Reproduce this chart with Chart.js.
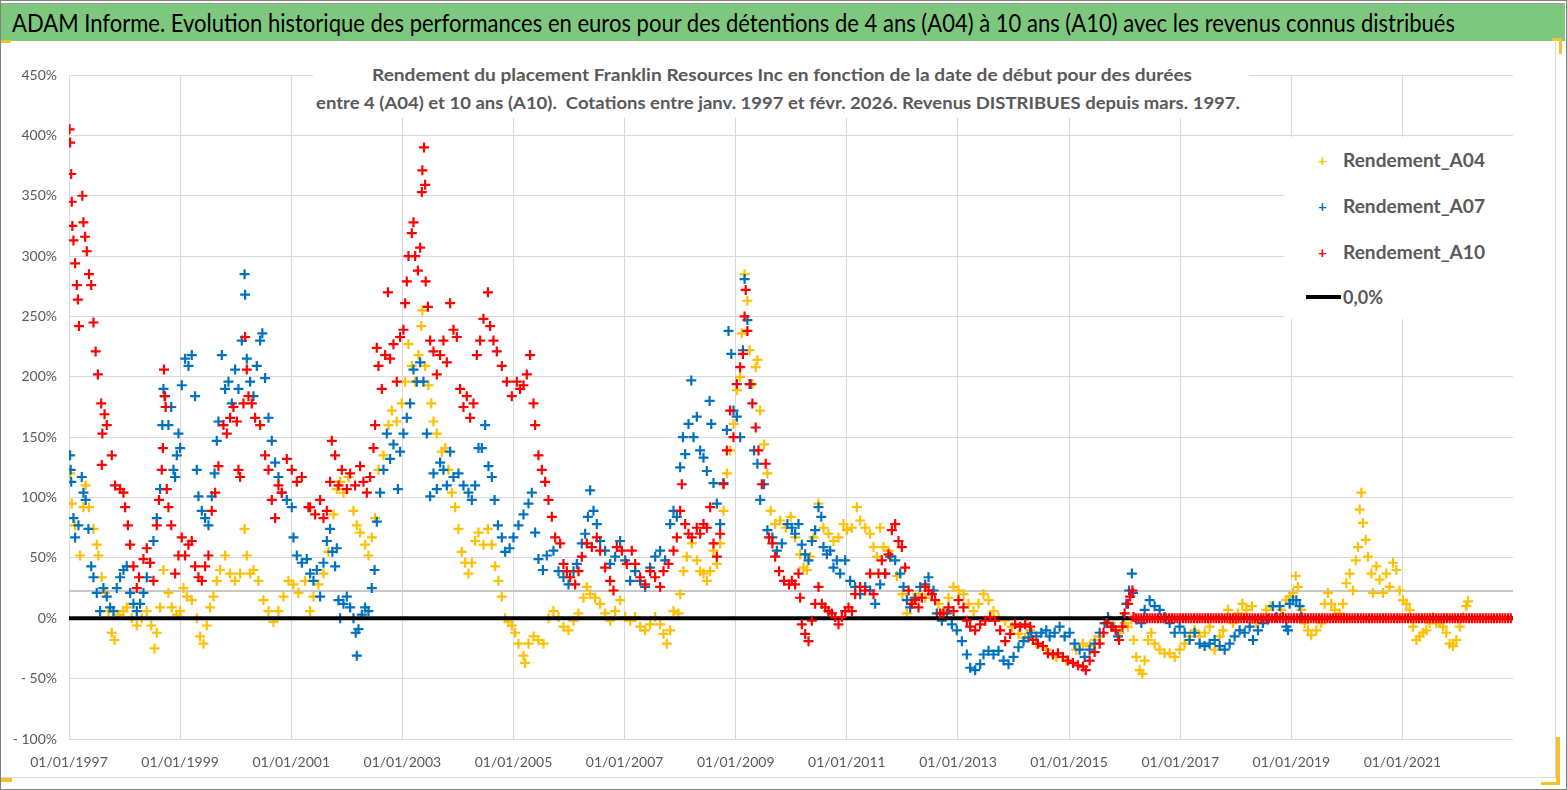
<!DOCTYPE html>
<html lang="fr">
<head>
  <meta charset="UTF-8">
  <title>Franklin Resources Inc - Rendement A04 / A07 / A10</title>
  <script src="https://cdn.jsdelivr.net/npm/chart.js@4.4.1/dist/chart.umd.min.js"></script>
  <style>
    body { margin: 0; width: 1567px; height: 790px; overflow: hidden; background: #fff; font-family: Lato, "Open Sans", sans-serif; }
    .abs { position: absolute; }
    #frame { left: 0; top: 0; width: 1565px; height: 788px; border: 1px solid #808080; }
    #inner { left: 1px; top: 42px; width: 1554px; height: 735px; border-right: 1px solid #d9d9d9; border-bottom: 1px solid #d9d9d9; }
    #banner { left: 1px; top: 3px; width: 1564px; height: 37px; background: #7ec77e; border-top: 1px solid #a0a0a0; z-index: 3; }
    .fit { position: absolute; white-space: nowrap; transform-origin: 0 50%; }
    #bannerText { left: 11px; top: 0; line-height: 37px; font-size: 25px; color: #000; }
    #chart { position: absolute; left: 0; top: 0; z-index: 1; }
    #subBox { left: 313px; top: 52px; width: 936px; height: 66px; background: #fff; z-index: 2; }
    .sub { font-size: 17px; font-weight: bold; color: #595959; line-height: 22px; }
    #legendBox { left: 1284px; top: 137px; width: 232px; height: 182px; background: #fff; z-index: 2; }
    .leg { font-size: 18px; font-weight: bold; color: #595959; line-height: 24px; }
    .mark { position: absolute; font-size: 15px; font-weight: bold; line-height: 16px; }
    .handle { position: absolute; background: #f2c12e; z-index: 4; }
  </style>
</head>
<body>
  <div id="frame" class="abs"></div>
  <div id="inner" class="abs"></div>
  <div id="banner" class="abs">
    <span id="bannerText" class="fit" data-w="1443">ADAM Informe. Evolution historique des performances en euros pour des détentions de 4 ans (A04) à 10 ans (A10) avec les revenus connus distribués</span>
  </div>
  <div class="handle" style="left:1px;top:40px;width:10px;height:3px"></div>
  <div class="handle" style="left:1552px;top:38px;width:10px;height:3px"></div>
  <div class="handle" style="left:1559px;top:38px;width:3px;height:16px"></div>
  <div class="handle" style="left:1px;top:778px;width:11px;height:4px"></div>
  <div class="handle" style="left:1556px;top:737px;width:4px;height:48px"></div>
  <div class="handle" style="left:1541px;top:782px;width:19px;height:3px"></div>

  <canvas id="chart" width="1567" height="790"></canvas>

  <div id="subBox" class="abs">
    <span class="fit sub" data-w="820" style="left:59px;top:12px">Rendement du placement Franklin Resources Inc en fonction de la date de début pour des durées</span>
    <span class="fit sub" data-w="924" style="left:3px;top:40px">entre 4 (A04) et 10 ans (A10).&nbsp; Cotations entre janv. 1997 et févr. 2026. Revenus DISTRIBUES depuis mars. 1997.</span>
  </div>

  <div id="legendBox" class="abs">
    <span class="mark" style="left:34px;top:15px;color:#FFC000">+</span>
    <span class="fit leg" data-w="142" style="left:59px;top:11px">Rendement_A04</span>
    <span class="mark" style="left:34px;top:61px;color:#0070C0">+</span>
    <span class="fit leg" data-w="142" style="left:59px;top:57px">Rendement_A07</span>
    <span class="mark" style="left:34px;top:107px;color:#FF0000">+</span>
    <span class="fit leg" data-w="142" style="left:59px;top:103px">Rendement_A10</span>
    <div class="abs" style="left:22px;top:158px;width:35px;height:4px;background:#000"></div>
    <span class="fit leg" data-w="40" style="left:59px;top:148px">0,0%</span>
  </div>

  <script>
    // dates de début (années décimales), rendement en %
    const rendementA04 = [
      [1997.02,120],[1997.05,95],[1997.11,77],[1997.20,52],[1997.26,92],[1997.30,110],[1997.36,92],[1997.44,74],[1997.50,61],[1997.53,52],[1997.59,34],[1997.65,21],[1997.71,6],[1997.77,-12],[1997.82,-18],[1997.89,3],[1997.98,6],
      [1998.04,9],[1998.13,0],[1998.22,-6],[1998.31,0],[1998.40,6],[1998.48,-6],[1998.54,-25],[1998.58,-12],[1998.64,9],[1998.70,40],[1998.79,21],[1998.85,9],[1998.94,3],
      [1999.00,6],[1999.06,25],[1999.12,18],[1999.21,15],[1999.30,0],[1999.36,-15],[1999.42,-21],[1999.48,-6],[1999.54,9],[1999.60,18],[1999.66,31],[1999.72,40],[1999.81,52],[1999.90,37],[1999.99,31],
      [2000.08,37],[2000.16,74],[2000.20,52],[2000.26,37],[2000.32,40],[2000.41,31],[2000.50,15],[2000.59,6],[2000.68,-3],[2000.77,6],[2000.86,18],[2000.95,31],
      [2001.04,28],[2001.13,21],[2001.25,31],[2001.34,6],[2001.40,18],[2001.49,28],[2001.58,37],[2001.67,55],[2001.76,86],[2001.82,107],[2001.88,113],[2001.94,104],
      [2002.03,117],[2002.12,89],[2002.18,77],[2002.24,71],[2002.33,61],[2002.39,52],[2002.45,67],[2002.51,83],[2002.57,123],[2002.66,135],[2002.75,160],[2002.81,172],[2002.90,163],[2002.99,178],
      [2003.05,196],[2003.11,227],[2003.17,209],[2003.23,196],[2003.29,218],[2003.34,242],[2003.36,255],[2003.41,209],[2003.47,193],[2003.52,178],[2003.56,163],[2003.62,153],[2003.71,138],[2003.77,141],[2003.83,123],[2003.89,104],[2003.95,92],
      [2004.01,74],[2004.07,55],[2004.13,46],[2004.19,37],[2004.25,46],[2004.31,64],[2004.37,71],[2004.46,61],[2004.54,74],[2004.61,61],[2004.67,43],[2004.73,31],[2004.79,18],[2004.85,0],[2004.91,-3],[2004.97,-6],
      [2005.03,-12],[2005.09,-21],[2005.18,-31],[2005.21,-37],[2005.27,-21],[2005.36,-15],[2005.45,-18],[2005.54,-21],[2005.63,0],[2005.72,6],[2005.81,1],[2005.90,-7],[2005.99,-10],
      [2006.08,-2],[2006.17,4],[2006.26,17],[2006.32,26],[2006.38,20],[2006.47,17],[2006.56,12],[2006.65,4],[2006.74,-2],[2006.83,6],[2006.92,15],
      [2007.01,1],[2007.10,-2],[2007.19,1],[2007.28,-7],[2007.37,-10],[2007.46,-5],[2007.55,1],[2007.64,-5],[2007.70,-13],[2007.76,-21],[2007.82,-10],[2007.88,6],[2007.97,4],
      [2008.00,20],[2008.06,39],[2008.12,51],[2008.21,62],[2008.30,48],[2008.36,39],[2008.42,37],[2008.48,31],[2008.54,39],[2008.60,56],[2008.66,45],[2008.72,62],[2008.78,89],[2008.84,120],[2008.90,139],[2008.96,161],
      [2009.02,189],[2009.08,200],[2009.11,236],[2009.16,285],[2009.21,263],[2009.25,222],[2009.30,194],[2009.36,208],[2009.39,214],[2009.44,172],[2009.51,144],[2009.57,120],[2009.63,89],[2009.71,78],[2009.80,81],[2009.90,75],[2009.99,84],
      [2010.07,67],[2010.16,53],[2010.22,42],[2010.28,40],[2010.34,51],[2010.40,67],[2010.49,95],[2010.58,75],[2010.67,70],[2010.76,64],[2010.85,67],[2010.94,78],
      [2011.00,73],[2011.09,75],[2011.18,92],[2011.24,81],[2011.33,75],[2011.42,70],[2011.48,59],[2011.54,51],[2011.60,75],[2011.66,59],[2011.75,56],[2011.81,51],[2011.90,35],
      [2012.00,20],[2012.08,4],[2012.20,17],[2012.29,20],[2012.41,17],[2012.53,20],[2012.65,12],[2012.74,6],[2012.83,17],[2012.92,26],
      [2013.01,23],[2013.10,20],[2013.19,12],[2013.28,6],[2013.37,12],[2013.46,20],[2013.55,15],[2013.64,6],[2013.73,1],[2013.85,-2],[2013.97,-7],
      [2014.09,-13],[2014.21,-16],[2014.30,-10],[2014.41,-21],[2014.59,-26],[2014.77,-32],[2014.95,-35],
      [2015.13,-26],[2015.25,-21],[2015.37,-23],[2015.46,-18],[2015.55,-15],[2015.64,-4],[2015.73,-1],[2015.82,-7],[2015.91,-12],
      [2016.00,-4],[2016.06,-7],[2016.12,-1],[2016.16,-18],[2016.21,-32],[2016.27,-43],[2016.32,-46],[2016.36,-35],[2016.42,-18],[2016.48,-12],[2016.54,-21],[2016.63,-26],[2016.72,-29],[2016.81,-29],[2016.90,-32],[2016.99,-26],
      [2017.08,-21],[2017.17,-15],[2017.26,-10],[2017.35,-15],[2017.44,-12],[2017.53,-7],[2017.62,-26],[2017.71,-15],[2017.77,-10],[2017.86,7],[2017.95,-4],
      [2018.04,4],[2018.12,12],[2018.19,7],[2018.29,10],[2018.37,-4],[2018.46,-1],[2018.55,7],[2018.63,10],[2018.73,1],[2018.82,7],[2018.91,15],[2018.97,18],
      [2019.03,21],[2019.08,35],[2019.12,26],[2019.18,7],[2019.24,-4],[2019.30,-10],[2019.36,-14],[2019.45,-10],[2019.54,-4],[2019.60,12],[2019.66,21],[2019.72,12],[2019.78,7],[2019.87,4],[2019.93,12],[2019.99,29],
      [2020.05,37],[2020.11,23],[2020.16,48],[2020.20,59],[2020.23,90],[2020.26,104],[2020.29,79],[2020.34,65],[2020.38,51],[2020.44,37],[2020.47,21],[2020.53,43],[2020.59,32],[2020.65,21],[2020.71,37],[2020.77,26],[2020.83,46],[2020.89,40],[2020.95,23],
      [2021.01,15],[2021.07,12],[2021.13,7],[2021.19,-7],[2021.25,-18],[2021.31,-15],[2021.37,-12],[2021.43,-10],[2021.49,-4],[2021.55,1],[2021.61,-4],[2021.67,-4],[2021.73,-7],[2021.79,-12],[2021.85,-21],[2021.91,-23],[2021.97,-18],
      [2022.03,-7],[2022.09,1],[2022.15,10],[2022.18,14]
    ];

    const rendementA07 = [
      [1997.02,135],[1997.03,123],[1997.04,113],[1997.08,83],[1997.11,67],[1997.17,77],[1997.23,117],[1997.26,104],[1997.30,98],[1997.35,74],[1997.40,43],[1997.44,34],[1997.50,21],[1997.56,6],[1997.62,25],[1997.68,18],[1997.74,9],[1997.80,6],[1997.86,25],[1997.92,34],[1997.98,40],
      [1998.04,43],[1998.10,21],[1998.16,12],[1998.22,6],[1998.28,12],[1998.34,21],[1998.40,34],[1998.46,46],[1998.52,64],[1998.58,83],[1998.64,107],[1998.68,160],[1998.70,190],[1998.73,184],[1998.79,160],[1998.84,175],[1998.88,123],[1998.91,117],[1998.94,135],[1998.97,153],
      [1999.00,141],[1999.03,193],[1999.09,215],[1999.15,209],[1999.21,218],[1999.27,184],[1999.30,123],[1999.33,101],[1999.39,89],[1999.45,83],[1999.51,77],[1999.57,101],[1999.62,120],[1999.66,147],[1999.69,163],[1999.75,218],[1999.81,190],[1999.87,196],[1999.93,178],[1999.99,206],
      [2000.05,190],[2000.11,230],[2000.16,285],[2000.17,268],[2000.20,215],[2000.26,196],[2000.32,184],[2000.38,209],[2000.44,230],[2000.48,236],[2000.53,199],[2000.59,166],[2000.65,147],[2000.71,129],[2000.77,117],[2000.83,104],[2000.92,98],
      [2001.01,92],[2001.04,67],[2001.10,52],[2001.19,46],[2001.28,49],[2001.34,37],[2001.40,31],[2001.46,40],[2001.52,18],[2001.58,46],[2001.64,64],[2001.70,74],[2001.74,55],[2001.79,43],[2001.82,58],[2001.85,15],[2001.88,0],[2001.94,12],
      [2002.00,18],[2002.06,9],[2002.12,0],[2002.16,-12],[2002.18,-31],[2002.21,-9],[2002.27,3],[2002.33,9],[2002.39,6],[2002.45,25],[2002.50,40],[2002.54,80],[2002.60,104],[2002.66,123],[2002.72,153],[2002.78,132],[2002.84,144],[2002.92,107],[2002.96,138],
      [2003.02,153],[2003.08,166],[2003.14,178],[2003.20,206],[2003.26,196],[2003.32,212],[2003.38,196],[2003.44,153],[2003.50,101],[2003.56,120],[2003.62,107],[2003.68,129],[2003.74,123],[2003.80,110],[2003.86,138],[2003.92,117],
      [2004.01,120],[2004.10,110],[2004.19,104],[2004.25,98],[2004.31,110],[2004.37,141],[2004.43,141],[2004.49,160],[2004.55,126],[2004.61,117],[2004.66,98],[2004.72,77],[2004.79,67],[2004.85,55],[2004.93,58],
      [2005.00,67],[2005.09,77],[2005.18,86],[2005.27,95],[2005.33,104],[2005.39,71],[2005.45,49],[2005.53,40],[2005.60,52],[2005.72,56],[2005.81,39],[2005.90,34],[2005.99,28],
      [2006.08,39],[2006.14,45],[2006.23,62],[2006.29,70],[2006.34,84],[2006.38,106],[2006.44,89],[2006.50,78],[2006.56,64],[2006.65,56],[2006.74,45],[2006.83,51],[2006.92,64],
      [2007.01,48],[2007.10,31],[2007.19,39],[2007.28,31],[2007.37,26],[2007.46,42],[2007.55,51],[2007.64,56],[2007.73,48],[2007.82,78],[2007.88,89],[2007.94,84],
      [2008.00,125],[2008.05,150],[2008.09,136],[2008.15,161],[2008.20,197],[2008.24,150],[2008.30,167],[2008.36,139],[2008.42,133],[2008.48,122],[2008.53,180],[2008.56,161],[2008.60,112],[2008.66,95],[2008.72,78],[2008.78,112],[2008.84,156],[2008.87,238],[2008.92,219],[2008.96,172],
      [2009.02,167],[2009.08,150],[2009.13,222],[2009.16,281],[2009.21,247],[2009.27,194],[2009.33,139],[2009.39,128],[2009.44,98],[2009.51,111],[2009.57,73],[2009.66,67],[2009.74,56],[2009.83,62],[2009.93,78],
      [2010.01,75],[2010.07,70],[2010.13,78],[2010.19,61],[2010.25,53],[2010.31,48],[2010.37,64],[2010.43,73],[2010.49,92],[2010.54,84],[2010.58,59],[2010.64,53],[2010.70,56],[2010.76,42],[2010.82,48],[2010.88,37],[2010.97,48],
      [2011.06,31],[2011.15,26],[2011.24,20],[2011.33,26],[2011.42,23],[2011.51,12],[2011.60,28],[2011.69,37],[2011.78,51],[2011.87,48],[2011.96,37],
      [2012.02,26],[2012.08,15],[2012.14,9],[2012.23,17],[2012.32,26],[2012.41,28],[2012.47,34],[2012.56,23],[2012.62,4],[2012.71,-2],[2012.80,4],[2012.89,-5],[2012.98,-10],
      [2013.07,-19],[2013.16,-30],[2013.22,-41],[2013.31,-43],[2013.40,-38],[2013.46,-30],[2013.55,-27],[2013.64,-30],[2013.73,-27],[2013.82,-35],[2013.91,-38],
      [2014.00,-32],[2014.09,-24],[2014.18,-19],[2014.27,-16],[2014.32,-12],[2014.41,-15],[2014.50,-12],[2014.59,-10],[2014.65,-15],[2014.74,-12],[2014.83,-7],[2014.92,-15],
      [2015.01,-12],[2015.10,-21],[2015.19,-26],[2015.28,-32],[2015.37,-26],[2015.46,-21],[2015.55,-12],[2015.64,-4],[2015.70,1],[2015.79,-7],[2015.88,-15],[2015.97,1],
      [2016.03,12],[2016.08,23],[2016.13,37],[2016.15,21],[2016.21,-1],[2016.30,-4],[2016.36,7],[2016.45,15],[2016.54,10],[2016.63,7],[2016.72,1],[2016.81,-4],[2016.90,-12],[2016.99,-7],
      [2017.08,-12],[2017.17,-18],[2017.26,-12],[2017.35,-21],[2017.44,-23],[2017.53,-21],[2017.62,-18],[2017.71,-23],[2017.80,-26],[2017.89,-21],[2017.98,-15],
      [2018.07,-10],[2018.16,-12],[2018.25,-7],[2018.31,-18],[2018.40,-10],[2018.49,-4],[2018.58,-1],[2018.67,10],[2018.73,1],[2018.79,10],[2018.85,1],[2018.91,-7],[2018.94,-10],[2018.97,12],
      [2019.03,15],[2019.09,15],[2019.15,10],[2019.18,1]
    ];

    const rendementA10 = [
      [1997.01,405],[1997.02,394],[1997.04,368],[1997.05,345],[1997.06,325],[1997.08,313],[1997.11,294],[1997.14,276],[1997.16,264],[1997.18,242],[1997.24,350],[1997.26,328],[1997.29,316],[1997.32,304],[1997.36,285],[1997.40,276],[1997.44,245],[1997.48,221],[1997.52,202],[1997.58,178],[1997.59,127],[1997.60,153],[1997.64,169],[1997.68,160],[1997.77,135],[1997.83,110],[1997.92,107],[1997.98,104],
      [1998.01,92],[1998.06,77],[1998.10,61],[1998.16,43],[1998.22,25],[1998.26,34],[1998.34,49],[1998.40,58],[1998.46,46],[1998.52,31],[1998.58,77],[1998.62,98],[1998.67,123],[1998.69,141],[1998.71,206],[1998.72,184],[1998.74,175],[1998.76,107],[1998.79,92],[1998.84,77],[1998.91,37],[1998.97,52],
      [1999.03,67],[1999.09,52],[1999.15,61],[1999.21,64],[1999.27,43],[1999.33,34],[1999.39,31],[1999.45,43],[1999.51,52],[1999.57,89],[1999.63,104],[1999.69,126],[1999.78,160],[1999.84,153],[1999.90,166],[1999.96,175],
      [2000.02,163],[2000.05,123],[2000.08,117],[2000.14,178],[2000.17,233],[2000.20,206],[2000.23,184],[2000.29,178],[2000.35,166],[2000.44,160],[2000.53,135],[2000.59,123],[2000.65,98],[2000.71,83],[2000.77,110],[2000.83,104],[2000.92,132],
      [2001.01,123],[2001.10,113],[2001.19,117],[2001.31,92],[2001.34,92],[2001.43,86],[2001.52,98],[2001.58,83],[2001.64,89],[2001.70,113],[2001.73,147],[2001.79,135],[2001.85,110],[2001.91,123],
      [2002.00,107],[2002.06,120],[2002.15,110],[2002.24,126],[2002.30,113],[2002.36,104],[2002.42,117],[2002.48,141],[2002.51,160],[2002.54,224],[2002.57,209],[2002.63,190],[2002.69,218],[2002.74,270],[2002.78,215],[2002.84,227],[2002.90,196],[2002.96,233],
      [2003.02,239],[2003.05,261],[2003.08,279],[2003.11,300],[2003.17,319],[2003.20,328],[2003.23,300],[2003.28,288],[2003.32,307],[2003.35,353],[2003.36,371],[2003.39,390],[2003.41,359],[2003.42,279],[2003.46,258],[2003.50,230],[2003.56,221],[2003.62,202],[2003.68,218],[2003.74,230],[2003.80,212],[2003.86,261],[2003.92,239],[2003.98,233],
      [2004.04,190],[2004.10,175],[2004.16,184],[2004.22,166],[2004.28,178],[2004.34,218],[2004.40,230],[2004.46,248],[2004.54,270],[2004.58,242],[2004.64,230],[2004.70,221],[2004.79,209],[2004.88,196],[2004.97,184],
      [2005.06,196],[2005.12,190],[2005.18,193],[2005.24,202],[2005.30,218],[2005.36,178],[2005.39,160],[2005.45,135],[2005.51,123],[2005.57,113],[2005.63,98],[2005.69,84],[2005.75,67],[2005.84,62],[2005.90,45],[2005.96,39],
      [2006.02,34],[2006.11,28],[2006.17,39],[2006.23,51],[2006.32,62],[2006.41,59],[2006.50,67],[2006.56,56],[2006.65,42],[2006.74,31],[2006.80,23],[2006.86,59],[2006.95,56],
      [2007.04,45],[2007.13,56],[2007.19,45],[2007.28,34],[2007.37,28],[2007.46,39],[2007.55,34],[2007.64,26],[2007.70,39],[2007.79,45],[2007.88,56],[2007.94,67],
      [2008.00,89],[2008.03,111],[2008.09,78],[2008.15,70],[2008.21,67],[2008.30,75],[2008.36,70],[2008.42,78],[2008.48,75],[2008.54,92],[2008.60,62],[2008.66,51],[2008.72,70],[2008.78,111],[2008.84,139],[2008.90,172],[2008.96,150],
      [2009.02,194],[2009.08,208],[2009.13,219],[2009.16,250],[2009.18,272],[2009.21,238],[2009.25,194],[2009.30,178],[2009.36,158],[2009.41,139],[2009.47,111],[2009.54,128],[2009.60,67],[2009.66,62],[2009.71,51],[2009.78,39],[2009.87,31],[2009.96,28],
      [2010.01,31],[2010.07,28],[2010.13,37],[2010.16,17],[2010.19,-5],[2010.25,-13],[2010.31,-19],[2010.37,-2],[2010.43,12],[2010.49,26],[2010.55,12],[2010.61,9],[2010.67,6],[2010.73,4],[2010.79,1],[2010.85,-5],[2010.91,1],[2010.97,6],
      [2011.03,9],[2011.09,6],[2011.15,20],[2011.24,26],[2011.33,23],[2011.42,37],[2011.48,20],[2011.57,37],[2011.63,48],[2011.69,37],[2011.75,53],[2011.81,73],[2011.87,78],[2011.93,64],[2011.99,59],
      [2012.05,42],[2012.11,23],[2012.17,12],[2012.23,15],[2012.29,9],[2012.35,17],[2012.41,26],[2012.47,23],[2012.53,20],[2012.59,15],[2012.68,4],[2012.74,4],[2012.83,9],[2012.92,6],
      [2013.01,15],[2013.10,9],[2013.16,-2],[2013.22,-7],[2013.31,-10],[2013.40,-5],[2013.49,-2],[2013.58,1],[2013.67,-2],[2013.76,-10],[2013.85,-19],[2013.94,-13],
      [2014.03,-5],[2014.12,-7],[2014.21,-5],[2014.30,-7],[2014.35,-18],[2014.44,-21],[2014.53,-23],[2014.62,-29],[2014.71,-30],[2014.80,-29],[2014.89,-32],[2014.98,-35],
      [2015.07,-37],[2015.16,-39],[2015.25,-40],[2015.30,-43],[2015.37,-35],[2015.46,-28],[2015.55,-21],[2015.62,-12],[2015.68,-4],[2015.76,-7],[2015.84,-10],[2015.90,-18],[2015.96,-7],
      [2016.00,4],[2016.06,12],[2016.10,18],[2016.14,23],[2016.16,1],
      // pas encore 10 ans de recul : rendement affiché à 0
      [2016.20,0],[2016.25,0],[2016.30,0],[2016.35,0],[2016.40,0],[2016.45,0],[2016.50,0],[2016.55,0],[2016.60,0],[2016.65,0],[2016.70,0],[2016.75,0],[2016.80,0],[2016.85,0],[2016.90,0],[2016.95,0],
      [2017.00,0],[2017.05,0],[2017.10,0],[2017.15,0],[2017.20,0],[2017.25,0],[2017.30,0],[2017.35,0],[2017.40,0],[2017.45,0],[2017.50,0],[2017.55,0],[2017.60,0],[2017.65,0],[2017.70,0],[2017.75,0],[2017.80,0],[2017.85,0],[2017.90,0],[2017.95,0],
      [2018.00,0],[2018.05,0],[2018.10,0],[2018.15,0],[2018.20,0],[2018.25,0],[2018.30,0],[2018.35,0],[2018.40,0],[2018.45,0],[2018.50,0],[2018.55,0],[2018.60,0],[2018.65,0],[2018.70,0],[2018.75,0],[2018.80,0],[2018.85,0],[2018.90,0],[2018.95,0],
      [2019.00,0],[2019.05,0],[2019.10,0],[2019.15,0],[2019.20,0],[2019.25,0],[2019.30,0],[2019.35,0],[2019.40,0],[2019.45,0],[2019.50,0],[2019.55,0],[2019.60,0],[2019.65,0],[2019.70,0],[2019.75,0],[2019.80,0],[2019.85,0],[2019.90,0],[2019.95,0],
      [2020.00,0],[2020.05,0],[2020.10,0],[2020.15,0],[2020.20,0],[2020.25,0],[2020.30,0],[2020.35,0],[2020.40,0],[2020.45,0],[2020.50,0],[2020.55,0],[2020.60,0],[2020.65,0],[2020.70,0],[2020.75,0],[2020.80,0],[2020.85,0],[2020.90,0],[2020.95,0],
      [2021.00,0],[2021.05,0],[2021.10,0],[2021.15,0],[2021.20,0],[2021.25,0],[2021.30,0],[2021.35,0],[2021.40,0],[2021.45,0],[2021.50,0],[2021.55,0],[2021.60,0],[2021.65,0],[2021.70,0],[2021.75,0],[2021.80,0],[2021.85,0],[2021.90,0],[2021.95,0],
      [2022.00,0],[2022.05,0],[2022.10,0],[2022.15,0],[2022.20,0],[2022.25,0],[2022.30,0],[2022.35,0],[2022.40,0],[2022.45,0],[2022.50,0],[2022.55,0],[2022.60,0],[2022.65,0],[2022.70,0],[2022.75,0],[2022.80,0],[2022.85,0],[2022.90,0],[2022.95,0]
    ];

    const zeroLine = [[1997, 0], [2022.99, 0]];
    const greyLine = [[1997, 22.5], [2022.99, 22.5]];
    const tickYears = [1997, 1999, 2001, 2003, 2005, 2007, 2009, 2011, 2013, 2015, 2017, 2019, 2021];

    const toXY = pts => pts.map(p => ({ x: p[0], y: p[1] }));

    function crossSet(label, pts, color, order) {
      return {
        label: label,
        data: toXY(pts),
        pointStyle: 'cross',
        pointRadius: 5,
        borderWidth: 2.2,
        borderColor: color,
        backgroundColor: color,
        order: order
      };
    }

    const tickFont = { family: 'Lato', size: 14 };

    new Chart(document.getElementById('chart'), {
      type: 'scatter',
      data: {
        datasets: [
          crossSet('Rendement_A10', rendementA10, '#FF0000', 0),
          { label: '0,0%', data: toXY(zeroLine), showLine: true, borderColor: '#000', borderWidth: 4, pointRadius: 0, order: 1 },
          crossSet('Rendement_A07', rendementA07, '#0070C0', 2),
          crossSet('Rendement_A04', rendementA04, '#FFC000', 3),
          { label: 'ref', data: toXY(greyLine), showLine: true, borderColor: '#c8c8c8', borderWidth: 2, pointRadius: 0, order: 4 }
        ]
      },
      options: {
        responsive: false,
        animation: false,
        layout: { padding: { top: 75, right: 54, left: 0, bottom: 0 } },
        plugins: { legend: { display: false }, tooltip: { enabled: false } },
        scales: {
          x: {
            type: 'linear',
            min: 1997,
            max: 2022.99,
            afterBuildTicks: s => { s.ticks = tickYears.map(v => ({ value: v })); },
            afterFit: s => { s.height = 51; },
            grid: { color: '#d9d9d9', drawTicks: false },
            border: { display: false },
            ticks: { padding: 15, color: '#595959', font: tickFont, maxRotation: 0, autoSkip: false, callback: v => '01/01/' + v }
          },
          y: {
            min: -100,
            max: 450,
            afterFit: s => { s.width = 69; },
            grid: { color: '#d9d9d9', drawTicks: false },
            border: { display: false },
            ticks: { stepSize: 50, padding: 12, color: '#595959', font: tickFont, callback: v => v < 0 ? '- ' + (-v) + '%' : v + '%' }
          }
        }
      }
    });

    // fit the html texts to the widths measured on the picture
    function fitTexts() {
      document.querySelectorAll('.fit').forEach(el => {
        el.style.transform = 'none';
        const w = el.getBoundingClientRect().width;
        el.style.transform = 'scaleX(' + (el.dataset.w / w) + ')';
      });
    }
    fitTexts();
    if (document.fonts) document.fonts.ready.then(fitTexts);
  </script>
</body>
</html>
